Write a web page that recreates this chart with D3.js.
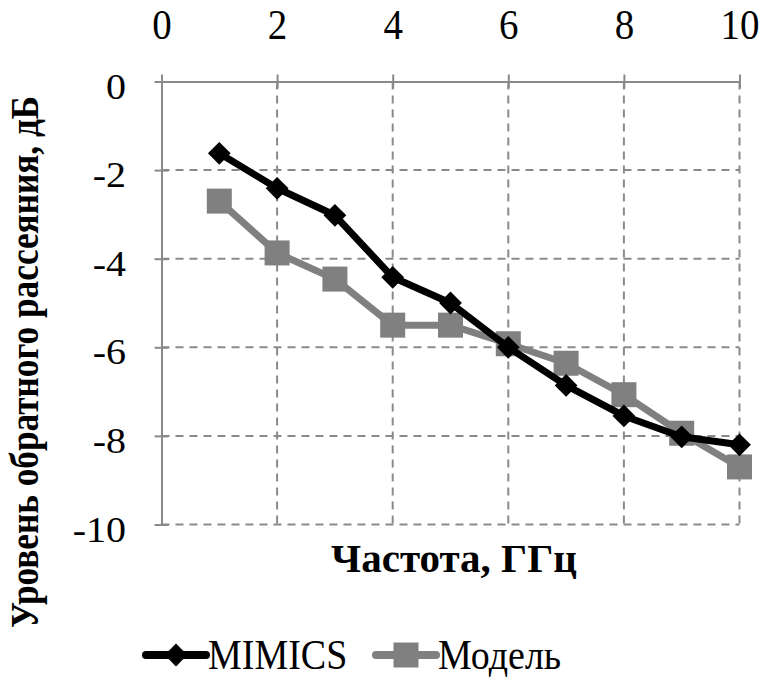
<!DOCTYPE html>
<html>
<head>
<meta charset="utf-8">
<script src="https://cdn.jsdelivr.net/npm/d3@7"></script>
<style>
  body { margin: 0; background: #fff; }
  text { font-family: "Liberation Serif", "Times New Roman", serif; }
</style>
</head>
<body>
<svg id="chart" width="764" height="680"></svg>
<script>
const freq = [1, 2, 3, 4, 5, 6, 7, 8, 9, 10];
const mimics = [-1.62, -2.41, -3.02, -4.42, -5.0, -6.0, -6.86, -7.55, -8.02, -8.2];
const model = [-2.7, -3.87, -4.46, -5.5, -5.5, -5.92, -6.36, -7.07, -7.94, -8.7];
const xTicks = [0, 2, 4, 6, 8, 10];
const yTicks = [0, -2, -4, -6, -8, -10];

const serif = '"Liberation Serif", "Times New Roman", serif';
const svg = d3.select('#chart');
const x = d3.scaleLinear().domain([0, 10]).range([161.5, 739.5]);
const y = d3.scaleLinear().domain([0, -10]).range([81.5, 524.5]);
const grey = '#8a8a8a';

// grid
svg.append('g')
  .selectAll('line')
  .data(xTicks.slice(1))
  .join('line')
  .attr('x1', d => x(d)).attr('x2', d => x(d))
  .attr('y1', y(0)).attr('y2', y(-10))
  .attr('stroke', grey).attr('stroke-width', 2).attr('stroke-dasharray', '8,6');
svg.append('g')
  .selectAll('line')
  .data(yTicks.slice(1))
  .join('line')
  .attr('x1', x(0)).attr('x2', x(10))
  .attr('y1', d => y(d)).attr('y2', d => y(d))
  .attr('stroke', grey).attr('stroke-width', 2).attr('stroke-dasharray', '8,6');

// axes
const xAxis = svg.append('g')
  .attr('transform', `translate(0,${y(0)})`)
  .call(d3.axisTop(x).tickValues(xTicks).tickSizeInner(7).tickSizeOuter(0));
const yAxis = svg.append('g')
  .attr('transform', `translate(${x(0)},0)`)
  .call(d3.axisLeft(y).tickValues(yTicks).tickSizeInner(7).tickSizeOuter(0)
    .tickFormat(d => d));
[xAxis, yAxis].forEach(a => {
  a.attr('font-family', serif);
  a.select('.domain').attr('stroke', grey).attr('stroke-width', 2);
  a.selectAll('.tick line').attr('stroke', grey).attr('stroke-width', 2);
  a.selectAll('text').attr('fill', '#000')
    .attr('font-family', serif)
    .attr('y', 0).attr('x', 0).attr('dy', 0);
});
// ticks cross the axis
xAxis.selectAll('.tick line').attr('y1', 7).attr('y2', -7);
yAxis.selectAll('.tick line').attr('x1', 7).attr('x2', -7);
// label glyphs are stretched differently in the original
xAxis.selectAll('text').attr('font-size', 39)
  .attr('transform', 'translate(0,-42.5) scale(1,1.1)');
yAxis.selectAll('text').attr('font-size', 40)
  .attr('transform', 'translate(-35.5,16.5) scale(1,0.92)');

const line = d3.line().x(d => x(d[0])).y(d => y(d[1]));

// model
const modelPts = freq.map((f, i) => [f, model[i]]);
svg.append('path').datum(modelPts)
  .attr('d', line).attr('fill', 'none').attr('stroke', '#808080').attr('stroke-width', 7)
  .attr('stroke-linejoin', 'round');
svg.append('g').selectAll('rect').data(modelPts).join('rect')
  .attr('x', d => x(d[0]) - 12.5).attr('y', d => y(d[1]) - 12.5)
  .attr('width', 25).attr('height', 25).attr('fill', '#808080');

// mimics
const mimicsPts = freq.map((f, i) => [f, mimics[i]]);
svg.append('path').datum(mimicsPts)
  .attr('d', line).attr('fill', 'none').attr('stroke', '#000').attr('stroke-width', 7)
  .attr('stroke-linejoin', 'round');
const diamond = d3.symbol().type(d3.symbolDiamond2).size(330);
svg.append('g').selectAll('path').data(mimicsPts).join('path')
  .attr('transform', d => `translate(${x(d[0])},${y(d[1])})`)
  .attr('d', diamond).attr('fill', '#000');

// titles
svg.append('text')
  .attr('x', 454).attr('y', 572).attr('font-family', serif)
  .attr('text-anchor', 'middle').attr('font-weight', 'bold').attr('font-size', 41)
  .text('Частота, ГГц');
svg.append('text')
  .attr('transform', 'translate(38,362) rotate(-90) scale(0.86,1)')
  .attr('font-family', serif)
  .attr('text-anchor', 'middle').attr('font-weight', 'bold').attr('font-size', 41)
  .text('Уровень обратного рассеяния, дБ');

// legend
const legend = [
  { name: 'MIMICS', color: '#000', x: 146, marker: 'diamond' },
  { name: 'Модель', color: '#808080', x: 376, marker: 'square' }
];
const lg = svg.append('g').selectAll('g').data(legend).join('g')
  .attr('transform', d => `translate(${d.x},655)`);
lg.append('line').attr('x1', 0).attr('x2', 60)
  .attr('stroke', d => d.color).attr('stroke-width', 8).attr('stroke-linecap', 'round');
lg.filter(d => d.marker === 'diamond').append('path')
  .attr('transform', 'translate(30,0)').attr('d', diamond).attr('fill', '#000');
lg.filter(d => d.marker === 'square').append('rect')
  .attr('x', 17.5).attr('y', -12.5).attr('width', 25).attr('height', 25).attr('fill', '#808080');
lg.append('text')
  .attr('transform', 'translate(62,14) scale(1,1.12)')
  .attr('font-family', serif).attr('font-size', 38)
  .text(d => d.name);
</script>
</body>
</html>
